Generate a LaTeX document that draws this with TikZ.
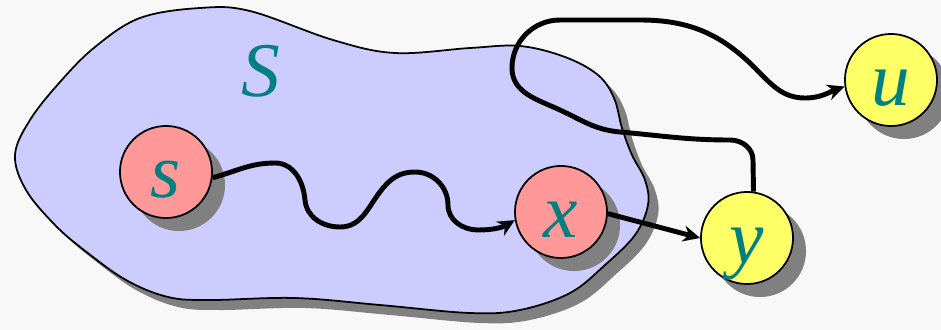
\documentclass[tikz,border=0pt]{standalone}
\usepackage{fontspec}
\setmainfont{Liberation Serif}
\usetikzlibrary{arrows.meta, shadows}

\definecolor{setblue}{RGB}{204,204,255}
\definecolor{vred}{RGB}{255,153,153}
\definecolor{vyellow}{RGB}{255,255,102}
\definecolor{labelteal}{RGB}{0,128,128}
\definecolor{bggray}{RGB}{248,248,248}

\begin{document}
\begin{tikzpicture}[
				x=0.01cm, y=-0.01cm,
				shade/.style={drop shadow={shadow xshift=0.13cm, shadow yshift=-0.13cm, fill=gray, opacity=1}},
				vertex/.style={circle, draw=black, line width=0.5pt, minimum size=0.92cm, inner sep=0pt, text height=0.5cm, text depth=0pt, text=labelteal, font=\fontsize{22}{22}\selectfont\itshape, shade},
				inset/.style={vertex, fill=vred},
				outset/.style={vertex, fill=vyellow},
				setlabel/.style={text=labelteal, font=\fontsize{22}{22}\selectfont\itshape},
				arrow/.style={-{Stealth[length=1.7mm, width=1.6mm]}, line width=1.4pt}
				]
				
				\fill[bggray] (0,0) rectangle (941,330);
				\useasboundingbox (0,0) rectangle (941,330);
				
				\filldraw[fill=setblue, draw=black, line width=0.5pt, drop shadow={shadow xshift=0.1cm, shadow yshift=-0.1cm, fill=gray, opacity=1}]
					plot[smooth cycle, tension=0.6] coordinates {(15,155) (30,120) (60,82) (95,47) (140,18) (200,8) (250,11) (333,40) (395,53) (470,48) (520,46) (565,57) (598,75) (614,98) (622,128) (632,155) (645,180) (648,205) (635,235) (605,265) (570,293) (520,310) (470,313) (380,305) (295,298) (210,300) (168,297) (126,280) (84,250) (55,225) (26,190)};
				\node[setlabel] (S) at (261,71) {S};
				
				\node[inset] (s) at (166,172) {s};
				\node[inset] (x) at (561,212) {x};
				\node[outset] (y) at (747,238) {y};
				\node[outset] (u) at (891,80) {u};
				
				\draw[arrow] (s.-7) to[out=15,in=180] (275,163) to[out=0,in=95] (305,200) to[out=-85,in=180] (340,227) to[out=0,in=-130] (383,188) to[out=50,in=180] (415,172) to[out=0,in=90] (448,205) to[out=-90,in=180] (478,230) to[out=0,in=210] (x.190);
				
				\draw[arrow] (x.-2) -- (y.west);
				
				\draw[arrow] (y.82) -- (753,160) to[out=90,in=0] (730,140) to[out=180,in=-5] (620,132) to[out=175,in=-25] (560,110) to[out=155,in=-90] (512,68) to[out=90,in=180] (560,20) -- (640,20) to[out=0,in=135] (755,68) to[out=-45,in=180] (805,98) to[out=0,in=200] (u.188);
				
			\end{tikzpicture}
\end{document}
